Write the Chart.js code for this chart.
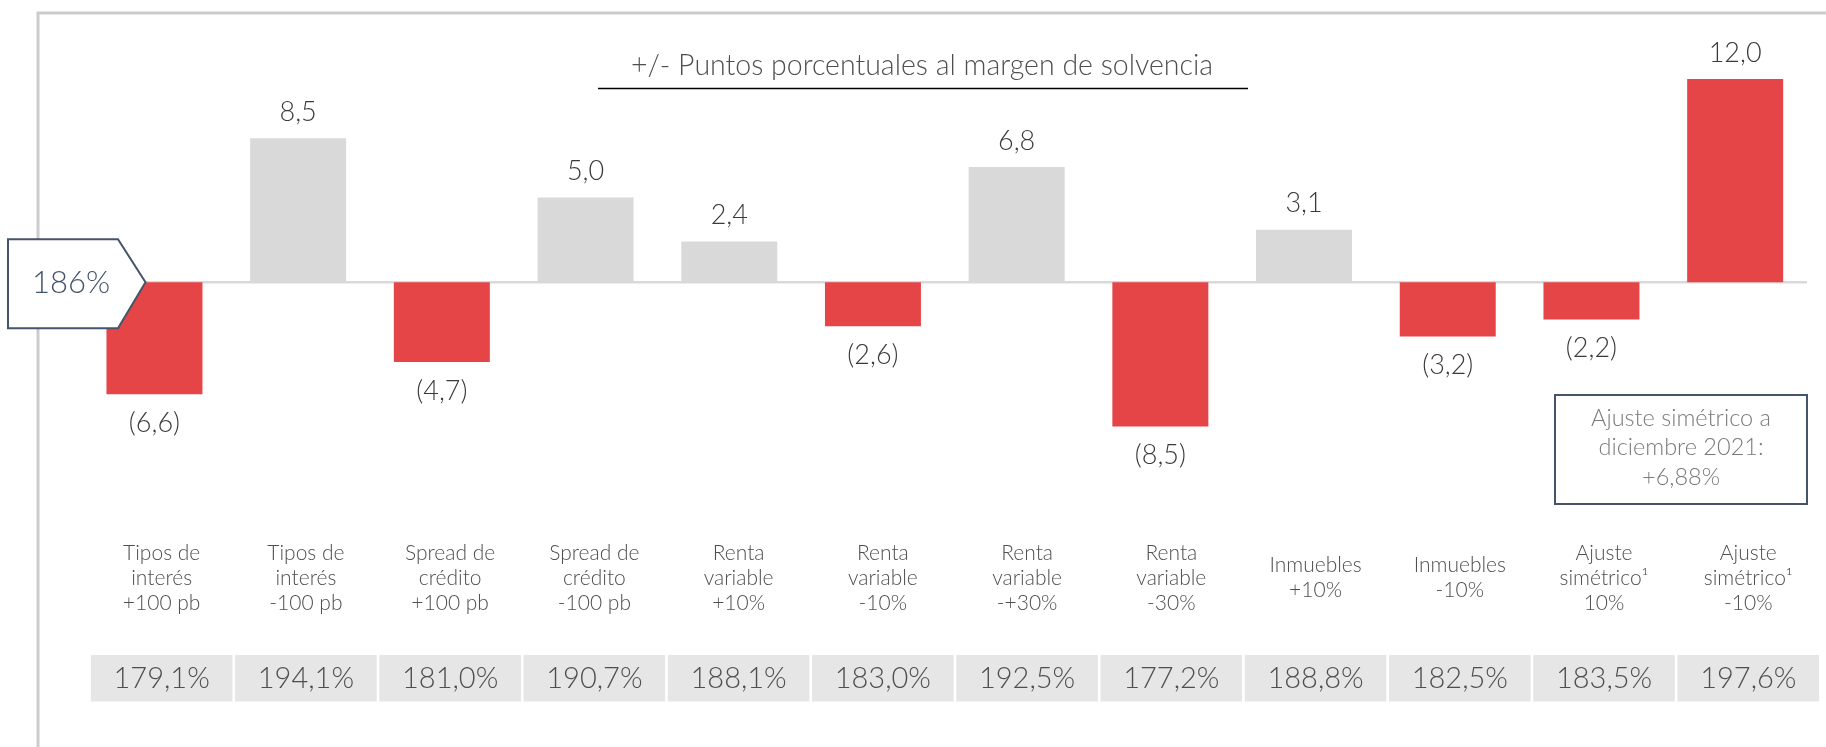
<!DOCTYPE html>
<html><head><meta charset="utf-8">
<script src="https://cdn.jsdelivr.net/npm/chart.js@4.4.1/dist/chart.umd.min.js"></script>
<style>html,body{margin:0;padding:0;background:#fff;overflow:hidden}canvas{display:block}</style>
</head><body>
<canvas id="c" width="1826" height="747"></canvas>
<script>
// ---- data ----
const categories = [
  ["Tipos de","interés","+100 pb"],
  ["Tipos de","interés","-100 pb"],
  ["Spread de","crédito","+100 pb"],
  ["Spread de","crédito","-100 pb"],
  ["Renta","variable","+10%"],
  ["Renta","variable","-10%"],
  ["Renta","variable","-+30%"],
  ["Renta","variable","-30%"],
  ["Inmuebles","+10%"],
  ["Inmuebles","-10%"],
  ["Ajuste","simétrico¹","10%"],
  ["Ajuste","simétrico¹","-10%"]
];
const impactPoints = [-6.6, 8.5, -4.7, 5.0, 2.4, -2.6, 6.8, -8.5, 3.1, -3.2, -2.2, 12.0];
const resultingRatio = [179.1, 194.1, 181.0, 190.7, 188.1, 183.0, 192.5, 177.2, 188.8, 182.5, 183.5, 197.6];
const baseRatio = 186;
const chartTitle = "+/- Puntos porcentuales al margen de solvencia";
const noteLines = ["Ajuste simétrico a", "diciembre 2021:", "+6,88%"];

// ---- style ----
const RED = '#e64547', GRAY = '#d9d9d9', TXT = '#4f4f4f', DARK = '#3a3a3a', SLATE = '#44546a';
const FONT = 'Lato, "Open Sans", sans-serif';
const fmt = v => Math.abs(v).toFixed(1).replace('.', ',');
const fmtBar = v => v < 0 ? '(' + fmt(v) + ')' : fmt(v);

const decor = {
  id: 'decor',
  beforeDatasetsDraw(chart) {
    const c = chart.ctx, ca = chart.chartArea, y = chart.scales.y;
    c.save();
    // frame
    c.strokeStyle = '#cccccc'; c.lineWidth = 3;
    c.beginPath(); c.moveTo(38, 747); c.lineTo(38, 13); c.lineTo(1826, 13); c.stroke();
    // title
    c.fillStyle = TXT; c.font = '300 28.5px ' + FONT; c.textAlign = 'center'; c.textBaseline = 'middle';
    c.fillText(chartTitle, 922, 66);
    c.strokeStyle = '#000'; c.lineWidth = 1.5;
    c.beginPath(); c.moveTo(598, 88.5); c.lineTo(1248, 88.5); c.stroke();
    // zero line
    const y0 = y.getPixelForValue(0);
    c.strokeStyle = GRAY; c.lineWidth = 2.5;
    c.beginPath(); c.moveTo(ca.left, y0); c.lineTo(ca.right, y0); c.stroke();
    c.restore();
  },
  afterDatasetsDraw(chart) {
    const c = chart.ctx, x = chart.scales.x, y = chart.scales.y;
    const meta = chart.getDatasetMeta(0);
    const y0 = y.getPixelForValue(0);
    c.save();
    // base ratio arrow box
    c.beginPath();
    c.moveTo(8, y0 - 43); c.lineTo(118, y0 - 43); c.lineTo(145.5, y0);
    c.lineTo(118, y0 + 46); c.lineTo(8, y0 + 46); c.closePath();
    c.fillStyle = '#fff'; c.fill();
    c.strokeStyle = SLATE; c.lineWidth = 2; c.stroke();
    c.fillStyle = SLATE; c.font = '300 31px ' + FONT; c.textAlign = 'center'; c.textBaseline = 'middle';
    c.fillText(baseRatio + '%', 71, y0 + 1);
    // value labels
    c.fillStyle = DARK; c.font = '300 27px ' + FONT;
    meta.data.forEach((bar, i) => {
      const v = impactPoints[i];
      const ly = v < 0 ? bar.y + 29 : bar.y - 26;
      c.fillText(fmtBar(v), bar.x, ly);
    });
    // category labels and resulting ratio boxes
    categories.forEach((lines, i) => {
      const cx = x.getPixelForValue(i) + 7.2 + i * 0.54;
      c.fillStyle = TXT; c.font = '300 21px ' + FONT;
      const lh = 25, mid = 578;
      lines.forEach((t, k) => c.fillText(t, cx, mid + (k - (lines.length - 1) / 2) * lh));
      c.fillStyle = '#e6e6e6';
      c.fillRect(cx - 70.8, 655, 141.6, 46.5);
      c.fillStyle = TXT; c.font = '300 29px ' + FONT;
      c.fillText(fmt(resultingRatio[i]) + '%', cx, 679);
    });
    // note box
    c.strokeStyle = SLATE; c.lineWidth = 2;
    c.strokeRect(1555, 395, 252, 109);
    c.fillStyle = '#7a7a7a'; c.font = '300 23.5px ' + FONT;
    noteLines.forEach((t, k) => c.fillText(t, 1681, 418 + k * 29.5));
    c.restore();
  }
};

new Chart(document.getElementById('c'), {
  type: 'bar',
  data: {
    labels: categories.map(l => l.join(' ')),
    datasets: [{
      data: impactPoints,
      backgroundColor: ctx => (ctx.raw < 0 || ctx.dataIndex === categories.length - 1) ? RED : GRAY,
      borderWidth: 0,
      categoryPercentage: 1,
      barPercentage: 0.668
    }]
  },
  options: {
    responsive: false,
    animation: false,
    layout: { padding: { left: 82.6, right: 19, top: 45.0, bottom: 261.3 } },
    plugins: { legend: { display: false }, tooltip: { enabled: false } },
    scales: {
      x: { display: false, offset: true, grid: { display: false } },
      y: { display: false, min: -12, max: 14 }
    }
  },
  plugins: [decor]
});
</script>
</body></html>
